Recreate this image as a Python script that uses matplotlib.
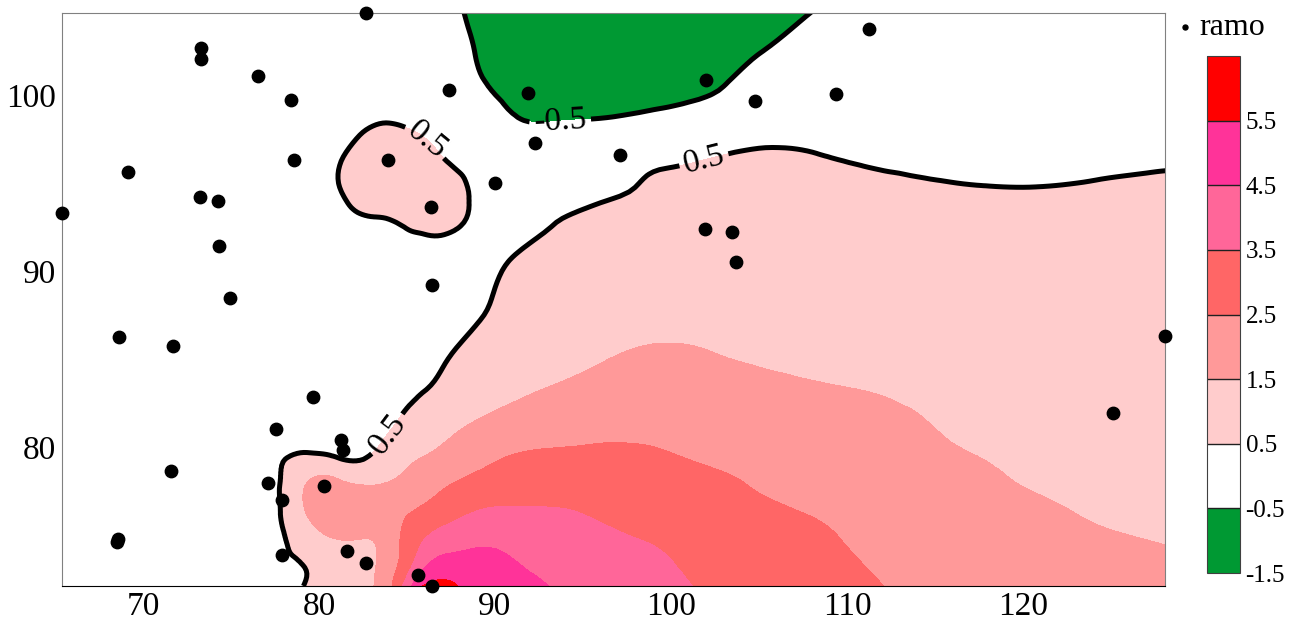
import numpy as np
import matplotlib
matplotlib.use("Agg")
import matplotlib.pyplot as plt
from matplotlib.tri import Triangulation, CubicTriInterpolator, UniformTriRefiner

plt.rcParams['font.family'] = ['Liberation Serif', 'DejaVu Serif']
plt.rcParams['axes.unicode_minus'] = False

# sample points ("ramo")
pts_x = [82.67, 73.3, 73.3, 76.53, 78.4, 87.4, 78.6, 83.9, 69.15, 65.4, 73.24, 74.26,
         86.36, 74.3, 74.94, 86.4, 91.9, 102.0, 104.8, 109.4, 92.3, 97.1, 90.0,
         101.93, 103.47, 103.7, 111.25, 128.07, 125.1, 68.64, 71.7, 79.66, 77.56,
         81.25, 81.36, 71.6, 77.1, 77.9, 80.28, 68.6, 68.55, 77.9, 81.6, 82.67,
         85.6, 86.4]
pts_y = [104.66, 102.67, 102.05, 101.08, 99.7, 100.3, 96.3, 96.3, 95.6, 93.3, 94.2, 93.98,
         93.64, 91.4, 88.47, 89.2, 100.1, 100.85, 99.66, 100.06, 97.3, 96.6, 95.0,
         92.39, 92.2, 90.5, 103.75, 86.3, 81.95, 86.25, 85.74, 82.84, 81.0,
         80.4, 79.83, 78.64, 77.95, 76.99, 77.78, 74.77, 74.6, 73.85, 74.07, 73.4,
         72.7, 72.1]

# field values read on a grid (rows bottom -> top)
grid_x = [65, 69, 73, 76, 78, 79.5, 81, 82.5, 84, 85, 86, 87.5, 89, 91, 93.5, 96, 99,
          102, 105, 108, 111, 114, 117, 120, 123, 126, 128.5]
grid_y = [72.1, 73.5, 75, 76.5, 78, 79.5, 81, 83, 85, 87.5, 90, 92.5, 94.5, 96.5, 98.5,
          100.5, 102.5, 105]
grid_z = [
    [0.0, 0.05, 0.15, 0.3, 0.38, 0.58, 0.85, 1.15, 2.3, 4.0, 5.6, 5.62, 5.1, 4.85, 4.42, 4.1, 3.8, 3.4, 3.15, 2.9, 2.6, 2.35, 2.15, 2.0, 1.9, 1.8, 1.75],
    [0.0, 0.05, 0.15, 0.3, 0.4, 0.62, 0.95, 1.15, 2.05, 3.0, 4.2, 4.8, 4.9, 4.55, 4.15, 3.85, 3.6, 3.3, 3.0, 2.75, 2.48, 2.25, 2.05, 1.9, 1.78, 1.68, 1.62],
    [0.0, 0.05, 0.15, 0.3, 0.48, 1.2, 1.6, 1.6, 2.0, 2.8, 3.4, 3.85, 4.1, 4.05, 3.9, 3.65, 3.4, 3.15, 2.9, 2.65, 2.35, 2.15, 1.95, 1.75, 1.6, 1.5, 1.42],
    [0.0, 0.05, 0.12, 0.25, 0.62, 1.7, 1.9, 2.0, 2.2, 2.4, 2.6, 3.1, 3.45, 3.55, 3.52, 3.3, 3.05, 2.8, 2.62, 2.42, 2.2, 2.0, 1.8, 1.62, 1.48, 1.38, 1.32],
    [0.0, 0.05, 0.12, 0.2, 0.62, 1.6, 1.65, 1.4, 1.52, 1.8, 2.1, 2.45, 2.75, 2.92, 2.97, 2.93, 2.8, 2.62, 2.45, 2.25, 2.05, 1.85, 1.65, 1.48, 1.38, 1.3, 1.25],
    [0.0, 0.05, 0.12, 0.22, 0.45, 0.58, 0.45, 0.4, 0.95, 1.3, 1.5, 1.85, 2.2, 2.52, 2.6, 2.62, 2.57, 2.42, 2.28, 2.1, 1.9, 1.7, 1.52, 1.38, 1.3, 1.22, 1.18],
    [0.0, 0.05, 0.1, 0.15, 0.2, 0.22, 0.25, 0.35, 0.48, 0.75, 0.98, 1.35, 1.7, 1.98, 2.2, 2.33, 2.33, 2.22, 2.05, 1.85, 1.68, 1.56, 1.38, 1.25, 1.18, 1.12, 1.1],
    [0.0, 0.02, 0.05, 0.1, 0.12, 0.14, 0.18, 0.25, 0.34, 0.42, 0.52, 0.75, 1.05, 1.38, 1.62, 1.78, 1.85, 1.82, 1.72, 1.6, 1.52, 1.42, 1.3, 1.2, 1.12, 1.07, 1.05],
    [0.0, 0.0, 0.03, 0.06, 0.08, 0.1, 0.14, 0.18, 0.25, 0.3, 0.38, 0.52, 0.75, 1.0, 1.28, 1.47, 1.6, 1.55, 1.45, 1.36, 1.28, 1.2, 1.12, 1.05, 1.0, 0.97, 0.95],
    [0.0, 0.0, 0.0, 0.02, 0.04, 0.06, 0.08, 0.1, 0.14, 0.18, 0.22, 0.3, 0.45, 0.7, 0.95, 1.15, 1.28, 1.3, 1.25, 1.2, 1.15, 1.1, 1.05, 1.0, 0.96, 0.93, 0.92],
    [0.0, 0.0, 0.0, 0.02, 0.05, 0.08, 0.1, 0.14, 0.18, 0.2, 0.22, 0.25, 0.32, 0.58, 0.78, 0.95, 1.06, 1.1, 1.08, 1.05, 1.02, 0.98, 0.95, 0.92, 0.9, 0.88, 0.87],
    [0.0, 0.0, 0.0, 0.02, 0.08, 0.15, 0.25, 0.35, 0.4, 0.52, 0.58, 0.55, 0.38, 0.35, 0.53, 0.75, 0.88, 0.93, 0.95, 0.93, 0.9, 0.85, 0.82, 0.8, 0.8, 0.8, 0.8],
    [0.0, 0.0, 0.0, 0.05, 0.15, 0.3, 0.45, 0.75, 0.92, 0.98, 0.95, 0.75, 0.38, 0.25, 0.3, 0.4, 0.58, 0.68, 0.72, 0.7, 0.66, 0.6, 0.55, 0.53, 0.55, 0.58, 0.6],
    [0.0, 0.0, 0.0, 0.05, 0.12, 0.25, 0.42, 0.75, 0.88, 0.85, 0.72, 0.4, 0.15, -0.1, -0.08, 0.15, 0.38, 0.47, 0.62, 0.55, 0.42, 0.36, 0.33, 0.33, 0.36, 0.4, 0.42],
    [0.0, 0.0, 0.0, 0.02, 0.05, 0.1, 0.2, 0.38, 0.48, 0.42, 0.3, 0.1, -0.1, -0.43, -0.5, -0.45, -0.3, -0.15, -0.02, 0.05, 0.08, 0.1, 0.1, 0.1, 0.12, 0.15, 0.17],
    [0.0, 0.0, 0.0, 0.0, 0.02, 0.03, 0.05, 0.08, 0.1, 0.05, -0.05, -0.25, -0.42, -0.68, -0.8, -0.8, -0.72, -0.58, -0.32, -0.15, -0.05, 0.0, 0.02, 0.03, 0.05, 0.07, 0.08],
    [0.0, 0.0, 0.0, 0.0, 0.0, 0.0, 0.0, 0.0, -0.05, -0.1, -0.18, -0.35, -0.52, -0.78, -0.92, -0.95, -0.9, -0.75, -0.52, -0.3, -0.15, -0.05, 0.0, 0.0, 0.02, 0.03, 0.04],
    [0.0, 0.0, 0.0, 0.0, 0.0, 0.0, -0.02, -0.05, -0.1, -0.15, -0.25, -0.42, -0.6, -0.85, -1.0, -1.05, -1.0, -0.88, -0.7, -0.52, -0.32, -0.15, -0.05, 0.0, 0.0, 0.0, 0.0],
]

levels = [-1.5, -0.5, 0.5, 1.5, 2.5, 3.5, 4.5, 5.5, 6.5]
colors = ['#009933', '#FFFFFF', '#FFCCCC', '#FF9999', '#FF6666', '#FF6699', '#FF3399', '#FF0000']
xticks = [70, 80, 90, 100, 110, 120]
yticks = [80, 90, 100]

# triangulate the grid and smooth it for drawing
nx, ny = len(grid_x), len(grid_y)
gx, gy = np.meshgrid(grid_x, grid_y)
tris = []
for j in range(ny - 1):
    for i in range(nx - 1):
        a = j * nx + i
        tris.append([a, a + 1, a + nx + 1])
        tris.append([a, a + nx + 1, a + nx])
tri = Triangulation(gx.ravel(), gy.ravel(), np.array(tris))
z = np.array(grid_z).ravel()
interp = CubicTriInterpolator(tri, z, kind='min_E')
tri_f, z_f = UniformTriRefiner(tri).refine_field(z, triinterpolator=interp, subdiv=3)

fig = plt.figure(figsize=(13.02, 6.26), dpi=100)
ax = fig.add_axes([62 / 1302, 1 - 586 / 626, (1165 - 62) / 1302, (586 - 13) / 626])

cf = ax.tricontourf(tri_f, z_f, levels=levels, colors=colors)
cs = ax.tricontour(tri_f, z_f, levels=[-0.5, 0.5], colors='black', linewidths=3.6,
                   linestyles='solid')
ax.clabel(cs, fmt={-0.5: '-0.5', 0.5: '0.5'}, fontsize=24, inline=True, inline_spacing=4,
          manual=[(86.0, 97.3), (101.9, 96.2), (83.8, 80.8), (93.7, 98.6)])

ax.scatter(pts_x, pts_y, s=80, color='black', zorder=5, clip_on=False, label='ramo')

ax.set_xlim(min(pts_x), max(pts_x))
ax.set_ylim(min(pts_y), max(pts_y))
ax.set_xticks(xticks)
ax.set_yticks(yticks)
ax.tick_params(length=0, labelsize=24, pad=4)
for side in ['top', 'left', 'right']:
    ax.spines[side].set_color('#808080')
ax.spines['bottom'].set_color('black')

ax.legend(loc='upper left', bbox_to_anchor=(1.008, 1.0), frameon=False, markerscale=0.4,
          handletextpad=0.1, handlelength=0.7, borderaxespad=0, borderpad=0, fontsize=23)

cax = fig.add_axes([1207 / 1302, 1 - 573 / 626, 33 / 1302, (573 - 56) / 626])
cb = fig.colorbar(cf, cax=cax, ticks=levels[:-1], drawedges=True)
cb.outline.set_edgecolor('#404040')
cb.dividers.set_color('#202020')
cb.dividers.set_linewidth(1.0)
cax.tick_params(length=0, labelsize=18, pad=4)

fig.savefig('out.png', dpi=100)
